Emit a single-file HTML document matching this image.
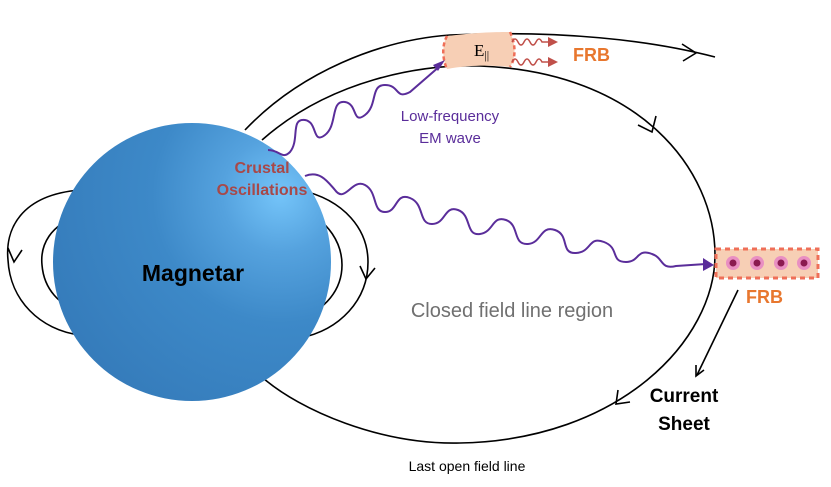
<!DOCTYPE html>
<html><head><style>body{margin:0;background:#fff}svg{display:block}</style></head><body>
<svg width="831" height="487" viewBox="0 0 831 487" xmlns="http://www.w3.org/2000/svg" font-family="Liberation Sans, sans-serif">
<defs>
<radialGradient id="g" cx="280" cy="195" r="320" gradientUnits="userSpaceOnUse">
<stop offset="0" stop-color="#74c4f9"/><stop offset="0.18" stop-color="#55a2de"/><stop offset="0.4" stop-color="#3d89c8"/><stop offset="1" stop-color="#3174b3"/></radialGradient>
</defs>
<g fill="none" stroke="#000" stroke-width="1.6">
<path d="M80,190 C20,195 5,230 8,260 C10,300 40,330 80,335"/>
<path d="M80,215 C50,225 40,245 42,265 C44,290 60,305 80,312"/>
<path d="M300,190 C345,200 368,230 368,262 C368,300 340,330 300,338"/>
<path d="M300,210 C330,220 342,245 342,265 C342,290 325,310 300,318"/>
<path d="M8,248 L14,262 L22,250"/>
<path d="M360,266 L366,279 L375,268"/>
<path d="M262,140 C330,80 420,64 480,66 C640,72 715,170 715,255 C715,340 620,440 460,443 C380,445 300,410 263,378"/>
<path d="M245,130 C300,72 380,40 450,35 C560,30 650,40 715,57"/>
<path d="M682,44 L696,53 L683,61"/>
<path d="M638,125 L652,132 L656,116"/>
<path d="M618,390 L616,404 L630,402"/>
<path d="M738,290 L697,375"/>
<path d="M696,365 L696,376 L704,370"/>
</g>
<circle cx="192" cy="262" r="139" fill="url(#g)"/>
<path d="M447,36 C480,32 500,32 510,32 C516,45 516,58 510,67 C490,65 470,65 447,69 C442,58 442,45 447,36Z" fill="#f7cfb5"/>
<path d="M447,36 C442,45 442,58 447,69 M510,32 C516,45 516,58 510,67" fill="none" stroke="#ef6f58" stroke-width="2.5" stroke-dasharray="4,3"/>
<text x="474" y="56" font-family="Liberation Serif, serif" font-size="17">E<tspan font-size="12" dy="3">||</tspan></text>
<g fill="none" stroke="#c0504a" stroke-width="1.5">
<path d="M512,42 q3,-6 6,0 t6,0 t6,0 t6,0 t6,0 l6,0"/>
<path d="M512,62 q3,-6 6,0 t6,0 t6,0 t6,0 t6,0 l6,0"/>
</g>
<path d="M548,37 L558,42 L548,47Z M548,57 L558,62 L548,67Z" fill="#c0504a"/>
<text x="573" y="61" font-size="18" font-weight="bold" fill="#e8772e">FRB</text>
<g fill="none" stroke="#5a2d9a" stroke-width="2">
<path d="M268,150 C280,150 282,160 290,152 C300,140 290,118 305,120 C318,122 312,145 325,135 C338,125 330,100 345,102 C358,104 352,125 365,115 C378,105 370,85 385,85 C400,85 395,100 410,92 L440,66"/>
<path d="M305,176 C320,170 328,182 335,190 C345,204 352,178 365,185 C378,192 372,212 385,212 C398,212 395,192 410,198 C425,204 418,224 432,224 C446,224 444,205 458,210 C472,215 465,236 480,234 C494,232 492,215 506,220 C520,225 512,245 528,244 C542,243 540,225 555,230 C570,235 560,254 576,253 C592,252 588,236 604,242 C620,248 610,262 626,262 C640,262 636,248 652,254 C664,258 660,270 676,266 L706,264"/>
</g>
<path d="M433,65 L445,60 L438,71Z M703,258 L714,265 L703,271Z" fill="#5a2d9a"/>
<rect x="716" y="249" width="102" height="29" fill="#f7cfb5" stroke="#ef6f58" stroke-width="3" stroke-dasharray="5,4"/>
<g fill="#e98fc2"><circle cx="733" cy="263" r="7"/><circle cx="757" cy="263" r="7"/><circle cx="781" cy="263" r="7"/><circle cx="804" cy="263" r="7"/></g>
<g fill="#8b1a50"><circle cx="733" cy="263" r="3.5"/><circle cx="757" cy="263" r="3.5"/><circle cx="781" cy="263" r="3.5"/><circle cx="804" cy="263" r="3.5"/></g>
<text x="746" y="303" font-size="18" font-weight="bold" fill="#e8772e">FRB</text>
<text x="450" y="121" font-size="15" fill="#5a2d9a" text-anchor="middle">Low-frequency</text>
<text x="450" y="143" font-size="15" fill="#5a2d9a" text-anchor="middle">EM wave</text>
<text x="262" y="173" font-size="16" font-weight="bold" fill="#a84848" text-anchor="middle">Crustal</text>
<text x="262" y="195" font-size="16" font-weight="bold" fill="#a84848" text-anchor="middle">Oscillations</text>
<text x="193" y="281" font-size="23" font-weight="bold" fill="#000" text-anchor="middle">Magnetar</text>
<text x="512" y="317" font-size="20" fill="#707070" text-anchor="middle">Closed field line region</text>
<text x="684" y="402" font-size="19" font-weight="bold" fill="#000" text-anchor="middle">Current</text>
<text x="684" y="430" font-size="19" font-weight="bold" fill="#000" text-anchor="middle">Sheet</text>
<text x="467" y="471" font-size="14" fill="#000" text-anchor="middle">Last open field line</text>
</svg>
</body></html>
